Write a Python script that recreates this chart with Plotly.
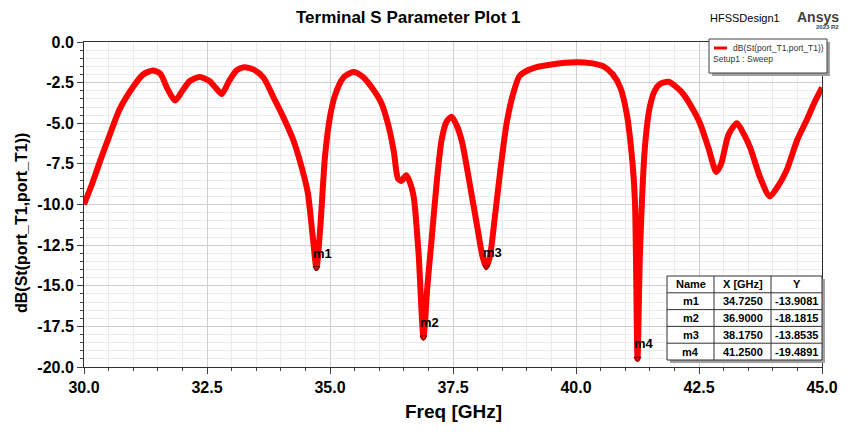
import plotly.graph_objects as go

# ---------------- data ----------------
freq = [30.00, 30.15, 30.33, 30.50, 30.73, 31.00, 31.20, 31.40, 31.55, 31.70, 31.85, 32.00,
        32.15, 32.35, 32.55, 32.70, 32.80, 32.95, 33.10, 33.25, 33.45, 33.65, 33.85, 34.00,
        34.25, 34.45, 34.55, 34.65, 34.725, 34.80, 34.90, 35.00, 35.10, 35.27, 35.47, 35.65,
        35.85, 36.05, 36.20, 36.30, 36.38, 36.45, 36.55, 36.62, 36.70, 36.80, 36.90, 36.98,
        37.07, 37.17, 37.27, 37.37, 37.47, 37.57, 37.68, 37.85, 38.00, 38.10, 38.175, 38.25,
        38.35, 38.45, 38.59, 38.73, 38.85, 38.95, 39.20, 39.50, 40.00, 40.30, 40.56, 40.75,
        40.90, 41.03, 41.15, 41.20, 41.25, 41.30, 41.40, 41.50, 41.60, 41.70, 41.88, 42.05,
        42.18, 42.35, 42.52, 42.70, 42.85, 42.95, 43.10, 43.27, 43.40, 43.54, 43.75, 43.94,
        44.10, 44.28, 44.50, 44.69, 44.85, 45.00]
s11_db = [-10.0, -8.85, -7.3, -5.9, -4.1, -2.75, -2.0, -1.75, -1.95, -2.9, -3.6, -3.0,
          -2.4, -2.15, -2.4, -2.9, -3.2, -2.4, -1.75, -1.55, -1.7, -2.2, -3.4, -4.3,
          -6.0, -8.0, -9.3, -12.0, -13.91, -11.5, -7.0, -4.6, -3.3, -2.2, -1.85, -2.1,
          -2.8, -3.8, -5.3, -6.8, -8.4, -8.55, -8.2, -8.6, -9.5, -13.0, -18.18, -15.0,
          -12.0, -8.6, -6.0, -4.9, -4.6, -5.1, -6.1, -8.9, -11.5, -13.2, -13.85, -13.2,
          -10.8, -8.2, -5.0, -3.1, -2.1, -1.85, -1.55, -1.38, -1.25, -1.3, -1.5, -2.0,
          -2.8, -4.4, -7.5, -10.0, -19.49, -13.0, -6.5, -4.0, -3.0, -2.6, -2.45, -2.8,
          -3.2, -4.0, -5.0, -6.6, -8.0, -7.5, -5.7, -5.0, -5.6, -6.5, -8.4, -9.5,
          -8.9, -7.9, -6.0, -4.8, -3.7, -2.8]

marker_names = ["m1", "m2", "m3", "m4"]
marker_x = [34.7250, 36.9000, 38.1750, 41.2500]
marker_y = [-13.9081, -18.1815, -13.8535, -19.4891]

table_header = ["Name", "X [GHz]", "Y"]

x_ticks = [30.0, 32.5, 35.0, 37.5, 40.0, 42.5, 45.0]
y_ticks = [0.0, -2.5, -5.0, -7.5, -10.0, -12.5, -15.0, -17.5, -20.0]

# ---------------- layout helpers (reference pixel -> paper) ----------------
OFF = 8                      # page body margin offset
W, H = 850 - OFF, 432 - OFF
L, R, T, B = 84, 822, 42, 367   # plot area in window pixels
def px(x):
    return (x - L) / (R - L)
def py(y):
    return (B - y) / (B - T)

FONT = "Arial, Liberation Sans, sans-serif"

fig = go.Figure()
fig.add_trace(go.Scatter(
    x=freq, y=s11_db, mode="lines",
    line=dict(color="#ff0000", width=6, shape="spline", smoothing=0.7),
    hoverinfo="skip", showlegend=False))
fig.add_trace(go.Scatter(
    x=marker_x, y=marker_y, mode="markers",
    marker=dict(symbol="triangle-down-open", size=6, color="#700000",
                line=dict(width=1, color="#700000")),
    showlegend=False, hoverinfo="skip"))

annotations = []
for n, mx, my in zip(marker_names, marker_x, marker_y):
    annotations.append(dict(x=mx, y=my, xref="x", yref="y", text="<b>%s</b>" % n,
                            showarrow=False, xshift=6, yshift=15,
                            font=dict(family=FONT, size=13, color="black")))

shapes = []
# ---- legend box ----
lx0, ly0, lx1, ly1 = 709, 39, 827, 73
shapes.append(dict(type="rect", xref="paper", yref="paper", x0=px(lx0 + 3), x1=px(lx1 + 3),
                   y0=py(ly1 + 3), y1=py(ly0 + 3), fillcolor="#a0a0a0", line=dict(width=0), layer="above"))
shapes.append(dict(type="rect", xref="paper", yref="paper", x0=px(lx0), x1=px(lx1),
                   y0=py(ly1), y1=py(ly0), fillcolor="white", line=dict(width=1, color="#404040"), layer="above"))
shapes.append(dict(type="line", xref="paper", yref="paper", x0=px(714), x1=px(727),
                   y0=py(48), y1=py(48), line=dict(width=3, color="#ff0000"), layer="above"))
annotations.append(dict(x=px(826), y=py(48), xref="paper", yref="paper", xanchor="right",
                        yanchor="middle", text="dB(St(port_T1,port_T1))", showarrow=False,
                        font=dict(family=FONT, size=8.5, color="#333333")))
annotations.append(dict(x=px(711), y=py(59), xref="paper", yref="paper", xanchor="left",
                        yanchor="middle", text="Setup1 : Sweep", showarrow=False,
                        font=dict(family=FONT, size=8.5, color="#333333")))

# ---- marker table ----
col_edges = [667, 714, 771, 822]
row_top, row_h = 276, 16.8
n_rows = len(marker_names) + 1
tb_bottom = row_top + n_rows * row_h
shapes.append(dict(type="rect", xref="paper", yref="paper", x0=px(col_edges[0] + 3), x1=px(col_edges[-1] + 3),
                   y0=py(tb_bottom + 3), y1=py(row_top + 3), fillcolor="#a0a0a0", line=dict(width=0), layer="above"))
shapes.append(dict(type="rect", xref="paper", yref="paper", x0=px(col_edges[0]), x1=px(col_edges[-1]),
                   y0=py(tb_bottom), y1=py(row_top), fillcolor="white", line=dict(width=1, color="#303030"), layer="above"))
for ce in col_edges[1:-1]:
    shapes.append(dict(type="line", xref="paper", yref="paper", x0=px(ce), x1=px(ce),
                       y0=py(tb_bottom), y1=py(row_top), line=dict(width=1, color="#303030"), layer="above"))
for i in range(1, n_rows):
    yy = row_top + i * row_h
    shapes.append(dict(type="line", xref="paper", yref="paper", x0=px(col_edges[0]), x1=px(col_edges[-1]),
                       y0=py(yy), y1=py(yy), line=dict(width=1, color="#303030"), layer="above"))
rows = [table_header] + [[n, "%.4f" % mx, "%.4f" % my] for n, mx, my in zip(marker_names, marker_x, marker_y)]
for ri, row in enumerate(rows):
    yc = row_top + (ri + 0.5) * row_h
    for ci, txt in enumerate(row):
        xc = (col_edges[ci] + col_edges[ci + 1]) / 2
        annotations.append(dict(x=px(xc), y=py(yc), xref="paper", yref="paper", xanchor="center",
                                yanchor="middle", text="<b>%s</b>" % txt, showarrow=False,
                                font=dict(family=FONT, size=11, color="black")))

# ---- titles ----
annotations.append(dict(x=px(408), y=py(17), xref="paper", yref="paper", xanchor="center", yanchor="middle",
                        text="<b>Terminal S Parameter Plot 1</b>", showarrow=False,
                        font=dict(family=FONT, size=17, color="black")))
annotations.append(dict(x=px(745), y=py(18), xref="paper", yref="paper", xanchor="center", yanchor="middle",
                        text="HFSSDesign1", showarrow=False, font=dict(family=FONT, size=11, color="black")))
annotations.append(dict(x=px(841), y=py(17), xref="paper", yref="paper", xanchor="right", yanchor="middle",
                        text="<b>Ansys</b>", showarrow=False, font=dict(family=FONT, size=14, color="#404040")))
annotations.append(dict(x=px(841), y=py(27), xref="paper", yref="paper", xanchor="right", yanchor="middle",
                        text="<b>2023 R2</b>", showarrow=False, font=dict(family=FONT, size=6, color="#404040")))
annotations.append(dict(x=px(453), y=py(411), xref="paper", yref="paper", xanchor="center", yanchor="middle",
                        text="<b>Freq [GHz]</b>", showarrow=False, font=dict(family=FONT, size=19, color="black")))
annotations.append(dict(x=px(22), y=py(223), xref="paper", yref="paper", xanchor="center", yanchor="middle",
                        textangle=-90, text="<b>dB(St(port_T1,port_T1))</b>", showarrow=False,
                        font=dict(family=FONT, size=16, color="black")))

fig.update_layout(
    width=W, height=H,
    margin=dict(l=L - OFF, r=W - (R - OFF), t=T - OFF, b=H - (B - OFF), autoexpand=False),
    paper_bgcolor="white", plot_bgcolor="white",
    showlegend=False,
    annotations=annotations, shapes=shapes,
    xaxis=dict(range=[30, 45], tickvals=x_ticks, ticktext=["<b>%.1f</b>" % v for v in x_ticks],
               showgrid=True, gridcolor="#cfcfcf", gridwidth=1,
               minor=dict(dtick=0.5, showgrid=True, gridcolor="#ebebeb", ticks="outside", ticklen=3, tickcolor="#404040"),
               ticks="outside", ticklen=6, tickcolor="#404040",
               showline=True, linecolor="#303030", linewidth=1, mirror=True, zeroline=False,
               tickfont=dict(family=FONT, size=16, color="black")),
    yaxis=dict(range=[-20, 0], tickvals=y_ticks, ticktext=["<b>%.1f</b>" % v for v in y_ticks],
               showgrid=True, gridcolor="#cfcfcf", gridwidth=1,
               minor=dict(dtick=0.5, showgrid=True, gridcolor="#ebebeb", ticks="outside", ticklen=3, tickcolor="#404040"),
               ticks="outside", ticklen=6, tickcolor="#404040",
               showline=True, linecolor="#303030", linewidth=1, mirror=True, zeroline=False,
               tickfont=dict(family=FONT, size=16, color="black")),
)

fig.write_html("out.html")
